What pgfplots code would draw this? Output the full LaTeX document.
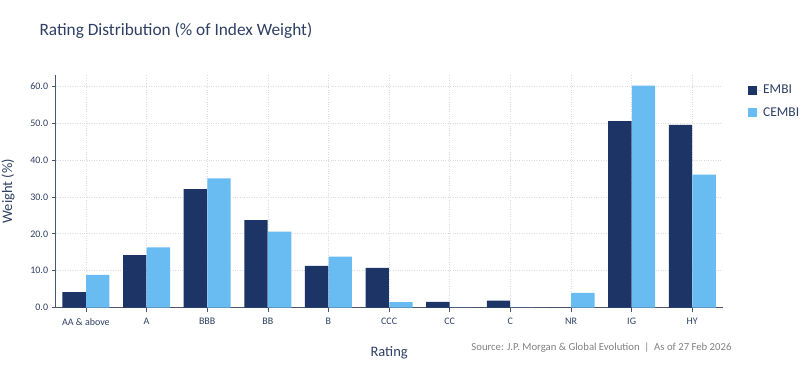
\documentclass[border=0pt]{standalone}
\usepackage{pgfplots}
\pgfplotsset{compat=1.18}
\usepackage{fontspec}
\setmainfont{Carlito}
\definecolor{embi}{HTML}{1C3566}
\definecolor{cembi}{HTML}{69BCF2}
\definecolor{txt}{HTML}{2E3F63}
\definecolor{axc}{HTML}{4A5670}
\definecolor{gridc}{HTML}{D9DDE3}
\begin{document}
\begin{tikzpicture}
\path[use as bounding box] (0,0) rectangle (812bp,381bp);
\node[anchor=west, text=txt, font=\fontsize{17.3bp}{19bp}\selectfont] at (36bp,350bp) {Rating Distribution (\% of Index Weight)};
\begin{axis}[
  at={(55.6bp,73.3bp)}, anchor=south west,
  scale only axis, width=667bp, height=232.8bp,
  xmin=-0.5, xmax=10.5, ymin=0, ymax=63,
  xtick={0,...,10},
  xticklabels={AA \& above, A, BBB, BB, B, CCC, CC, C, NR, IG, HY},
  ytick={0,10,...,60},
  yticklabel={\pgfmathprintnumber[fixed,fixed zerofill,precision=1]{\tick}},
  /pgf/number format/assume math mode=true,
  tick label style={text=txt, font=\fontsize{10bp}{12bp}\selectfont},
  xticklabel style={yshift=-3bp},
  axis x line*=bottom, axis y line*=left,
  axis line style={axc, line width=0.8pt},
  x axis line style={-}, y axis line style={-},
  tick style={axc, line width=0.6pt},
  tick align=outside, major tick length=4bp,
  xmajorgrids, ymajorgrids,
  grid style={gridc, dotted, line width=0.6pt},
  xlabel={Rating}, ylabel={Weight (\%)},
  label style={text=txt, font=\fontsize{14.5bp}{16bp}\selectfont},
  xlabel style={yshift=-14bp},
  ylabel style={yshift=9bp},
  legend style={at={(1.038,0.965)}, anchor=north west, draw=none, fill=none,
    font=\fontsize{13.5bp}{15bp}\selectfont, text=txt,
    row sep=8bp, inner sep=0pt, cells={anchor=west}},
  legend image code/.code={\fill[#1] (0bp,-4.5bp) rectangle (9bp,4.5bp); \path (9bp,0) -- (13bp,0);},
  clip=false,
]
\addplot[ybar, bar width=0.385, bar shift=-0.195, fill=embi, draw=none]
  coordinates {(0,4.2) (1,14.2) (2,32.1) (3,23.7) (4,11.3) (5,10.8) (6,1.6) (7,1.9) (8,0) (9,50.5) (10,49.5)};
\addlegendentry{EMBI}
\addplot[ybar, bar width=0.385, bar shift=0.195, fill=cembi, draw=none]
  coordinates {(0,8.9) (1,16.3) (2,35.0) (3,20.6) (4,13.8) (5,1.5) (6,0) (7,0) (8,4.0) (9,60.1) (10,36.0)};
\addlegendentry{CEMBI}
\end{axis}
\node[anchor=east, text=black!50, font=\fontsize{10.7bp}{12bp}\selectfont] at (735bp,33bp) {Source: J.P. Morgan \& Global Evolution \ \textbar\ \ As of 27 Feb 2026};
\end{tikzpicture}
\end{document}
